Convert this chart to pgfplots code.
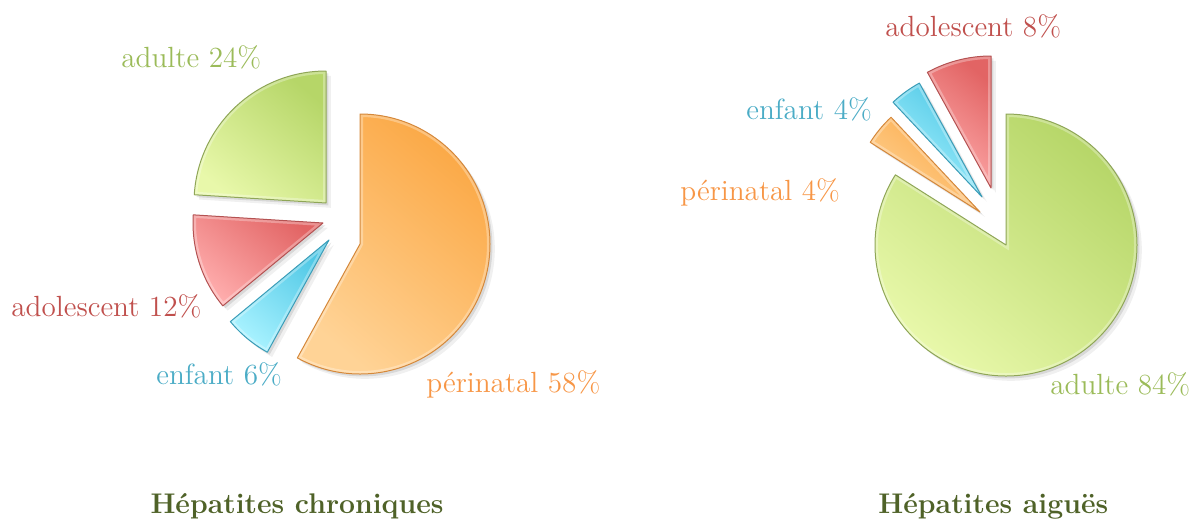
\documentclass[border=0pt]{standalone}
\usepackage{fontspec}
\usepackage{pgfplots}
\pgfplotsset{compat=1.18}

\definecolor{grnA}{HTML}{E8F8AA}
\definecolor{grnB}{HTML}{B6D668}
\definecolor{grnL}{HTML}{8FA657}
\definecolor{orgA}{HTML}{FFD396}
\definecolor{orgB}{HTML}{FBA845}
\definecolor{orgL}{HTML}{D5883A}
\definecolor{redA}{HTML}{FFAEAE}
\definecolor{redB}{HTML}{E26464}
\definecolor{redL}{HTML}{B45252}
\definecolor{bluA}{HTML}{A8F2FF}
\definecolor{bluB}{HTML}{4EC7E5}
\definecolor{bluL}{HTML}{3A9DB8}
\definecolor{lblgrn}{HTML}{9BBB59}
\definecolor{lblorg}{HTML}{F79646}
\definecolor{lblred}{HTML}{C0504D}
\definecolor{lblblu}{HTML}{4BACC6}
\definecolor{ttl}{HTML}{4F6228}

% wedge outline: tip x, tip y (axis units), radius, from, to, shift x, shift y
\newcommand\wedgepath[7]{([xshift=#6,yshift=#7]axis cs:#1,#2) -- ++(#4:#3) arc[start angle=#4, end angle=#5, radius=#3] -- cycle}
% one slice with shadow, gradient, bevel and rim
\newcommand\slice[6]{%
  \fill[black, opacity=0.06] \wedgepath{#1}{#2}{#3}{#4}{#5}{2.4pt}{-2.4pt};
  \fill[black, opacity=0.10] \wedgepath{#1}{#2}{#3}{#4}{#5}{1.2pt}{-1.2pt};
  \shade[top color=#6B, bottom color=#6A, shading angle=-40] \wedgepath{#1}{#2}{#3}{#4}{#5}{0pt}{0pt};
  \begin{scope}
    \clip \wedgepath{#1}{#2}{#3}{#4}{#5}{0pt}{0pt};
    \draw[white, opacity=0.3, line width=3pt] \wedgepath{#1}{#2}{#3}{#4}{#5}{0pt}{0pt};
  \end{scope}
  \draw[#6L, line width=0.5pt, line join=round] \wedgepath{#1}{#2}{#3}{#4}{#5}{0pt}{0pt};
}
% a pie: list of tipx/tipy/radius/percent/colour, clockwise from 12 o'clock
\newcommand\pie[1]{%
  \gdef\cum{0}%
  \foreach \vx/\vy/\r/\v/\col in {#1}{
    \pgfmathsetmacro\aa{90-3.6*\cum}
    \pgfmathsetmacro\bb{90-3.6*(\cum+\v)}
    \pgfmathsetmacro\rr{0.5*\r}
    \edef\doslice{\noexpand\slice{\vx}{\vy}{\rr pt}{\aa}{\bb}{\col}}
    \doslice
    \pgfmathsetmacro\newcum{\cum+\v}
    \global\let\cum\newcum
  }%
}

\begin{document}
\begin{tikzpicture}
\begin{axis}[
    scale only axis,
    width=599.5pt, height=263pt,
    xmin=0, xmax=1199, ymin=0, ymax=526,
    y dir=reverse,
    hide axis,
    clip=false,
]
\pgfplotsextra{
  \path (axis cs:0,0) rectangle (axis cs:1199,526);
  % Hepatites chroniques: perinatal, enfant, adolescent, adulte
  \pie{360/244/130/58/org, 329/240/128/6/blu, 323/223/130/12/red, 326/203/132/24/grn}
  % Hepatites aigues: adulte, perinatal, enfant, adolescent
  \pie{1006/245/131/84/grn, 980/212/130/4/org, 982/197/130/4/blu, 991/188/132/8/red}
}

\tikzset{lbl/.style={anchor=base west, inner sep=0pt, font=\fontsize{14.6}{17}\selectfont}}
\node[lbl, text=lblgrn] at (axis cs:121,67.3) {adulte 24\%};
\node[lbl, text=lblred] at (axis cs:11,316) {adolescent 12\%};
\node[lbl, text=lblblu] at (axis cs:156,384) {enfant 6\%};
\node[lbl, text=lblorg] at (axis cs:426,392.7) {périnatal 58\%};

\node[lbl, text=lblred] at (axis cs:885,36) {adolescent 8\%};
\node[lbl, text=lblblu] at (axis cs:746,119.3) {enfant 4\%};
\node[lbl, text=lblorg] at (axis cs:680,200.7) {périnatal 4\%};
\node[lbl, text=lblgrn] at (axis cs:1050,394.3) {adulte 84\%};

\tikzset{ttl/.style={anchor=base, inner sep=0pt, text=ttl, font=\bfseries\fontsize{14.2}{16}\selectfont}}
\node[ttl] at (axis cs:297,513.3) {Hépatites chroniques};
\node[ttl] at (axis cs:993.3,513.3) {Hépatites aiguës};
\end{axis}
\end{tikzpicture}
\end{document}
